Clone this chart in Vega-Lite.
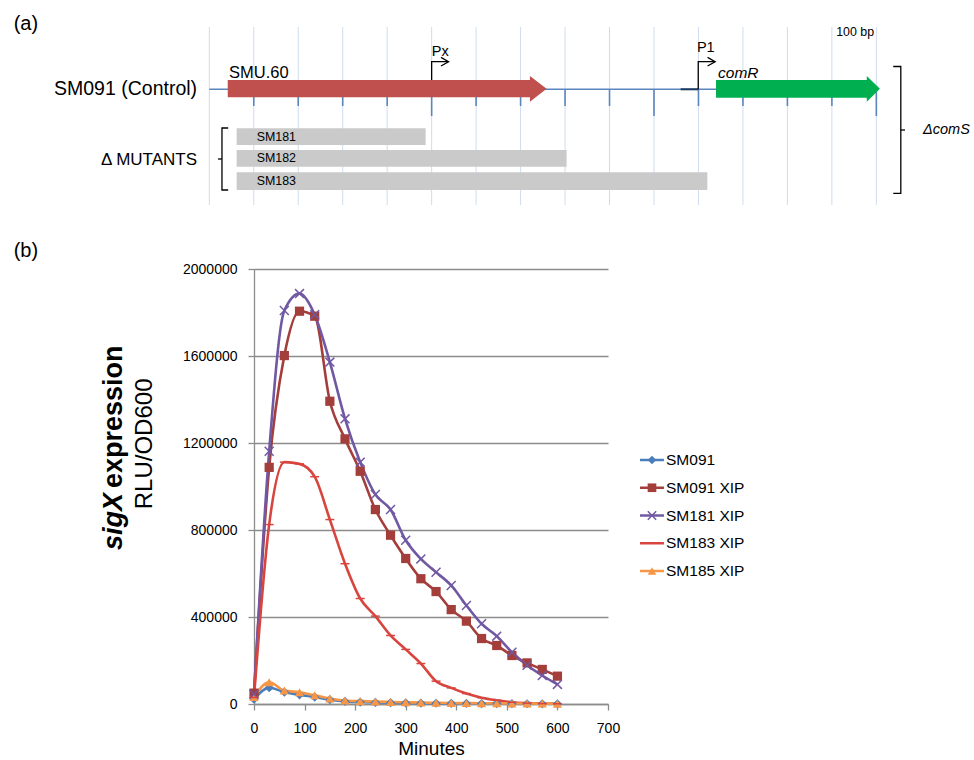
{
  "$schema": "https://vega.github.io/schema/vega-lite/v6.json",
  "padding": 0,
  "spacing": 0,
  "config": {
    "font": "Liberation Sans",
    "view": {"stroke": null},
    "concat": {"spacing": 0},
    "text": {"color": "#000000"}
  },
  "datasets": {
    "grid": [
      {"x": 0, "y": 27, "y2": 205}, {"x": 20, "y": 27, "y2": 205}, {"x": 40, "y": 27, "y2": 205}, {"x": 60, "y": 27, "y2": 205},
      {"x": 80, "y": 27, "y2": 205}, {"x": 100, "y": 27, "y2": 205}, {"x": 120, "y": 27, "y2": 205}, {"x": 140, "y": 27, "y2": 205},
      {"x": 160, "y": 27, "y2": 205}, {"x": 180, "y": 27, "y2": 205}, {"x": 200, "y": 27, "y2": 205}, {"x": 220, "y": 27, "y2": 205},
      {"x": 240, "y": 27, "y2": 205}, {"x": 260, "y": 27, "y2": 205}, {"x": 280, "y": 27, "y2": 205}, {"x": 300, "y": 27, "y2": 205}
    ],
    "baseline": [{"x": 0, "x2": 300, "y": 89.3}],
    "ticks": [
      {"x": 20, "y": 89.3, "y2": 106}, {"x": 40, "y": 89.3, "y2": 106}, {"x": 60, "y": 89.3, "y2": 106}, {"x": 80, "y": 89.3, "y2": 106},
      {"x": 100, "y": 89.3, "y2": 116}, {"x": 120, "y": 89.3, "y2": 106}, {"x": 140, "y": 89.3, "y2": 106}, {"x": 160, "y": 89.3, "y2": 106},
      {"x": 180, "y": 89.3, "y2": 106}, {"x": 200, "y": 89.3, "y2": 116}, {"x": 220, "y": 89.3, "y2": 106}, {"x": 240, "y": 89.3, "y2": 106},
      {"x": 260, "y": 89.3, "y2": 106}, {"x": 280, "y": 89.3, "y2": 106}, {"x": 300, "y": 89.3, "y2": 116}
    ],
    "segment": [{"x": 212, "x2": 219.9, "y": 89.3}],
    "genes": [
      {"gene": "SMU.60", "x": 8.3, "y": 80, "y2": 97.3},
      {"gene": "SMU.60", "x": 144.2, "y": 80, "y2": 97.3},
      {"gene": "SMU.60", "x": 144.21, "y": 76, "y2": 101.7},
      {"gene": "SMU.60", "x": 151.7, "y": 88.7, "y2": 88.7},
      {"gene": "comR", "x": 227.9, "y": 80, "y2": 97.7},
      {"gene": "comR", "x": 295.7, "y": 80, "y2": 97.7},
      {"gene": "comR", "x": 295.71, "y": 76, "y2": 101.7},
      {"gene": "comR", "x": 301.6, "y": 88.8, "y2": 88.8}
    ],
    "deletions": [
      {"strain": "SM181", "x": 12.3, "x2": 97.3, "y": 128.3, "y2": 145},
      {"strain": "SM182", "x": 12.3, "x2": 160.7, "y": 150, "y2": 166.7},
      {"strain": "SM183", "x": 12.3, "x2": 224, "y": 172.3, "y2": 190}
    ],
    "paths": [
      {"path": "Px stem", "ord": 0, "x": 100, "y": 80}, {"path": "Px stem", "ord": 1, "x": 100, "y": 61.7}, {"path": "Px stem", "ord": 2, "x": 107.5, "y": 61.7},
      {"path": "Px head", "ord": 0, "x": 104.2, "y": 57.4}, {"path": "Px head", "ord": 1, "x": 107.6, "y": 61.7}, {"path": "Px head", "ord": 2, "x": 104.2, "y": 66},
      {"path": "P1 stem", "ord": 0, "x": 219.9, "y": 89.3}, {"path": "P1 stem", "ord": 1, "x": 219.9, "y": 61.7}, {"path": "P1 stem", "ord": 2, "x": 227.4, "y": 61.7},
      {"path": "P1 head", "ord": 0, "x": 224.1, "y": 57.4}, {"path": "P1 head", "ord": 1, "x": 227.5, "y": 61.7}, {"path": "P1 head", "ord": 2, "x": 224.1, "y": 66},
      {"path": "mutant bracket", "ord": 0, "x": 8.5, "y": 128}, {"path": "mutant bracket", "ord": 1, "x": 5.7, "y": 128}, {"path": "mutant bracket", "ord": 2, "x": 5.7, "y": 190}, {"path": "mutant bracket", "ord": 3, "x": 8.5, "y": 190},
      {"path": "mutant notch", "ord": 0, "x": 5.7, "y": 159}, {"path": "mutant notch", "ord": 1, "x": 3.9, "y": 159},
      {"path": "comS bracket", "ord": 0, "x": 307.6, "y": 66.5}, {"path": "comS bracket", "ord": 1, "x": 311, "y": 66.5}, {"path": "comS bracket", "ord": 2, "x": 311, "y": 193.3}, {"path": "comS bracket", "ord": 3, "x": 307.6, "y": 193.3},
      {"path": "comS notch", "ord": 0, "x": 311, "y": 130}, {"path": "comS notch", "ord": 1, "x": 312.9, "y": 130}
    ],
    "labels": [
      {"kind": "panel", "text": "(a)", "x": -88, "y": 24},
      {"kind": "panel", "text": "(b)", "x": -88, "y": 251},
      {"kind": "strain", "text": "SM091 (Control)", "x": -5.5, "y": 89.3},
      {"kind": "group", "text": "Δ MUTANTS", "x": -5.5, "y": 159.5},
      {"kind": "gene", "text": "SMU.60", "x": 8.9, "y": 78},
      {"kind": "geneItalic", "text": "comR", "x": 228.8, "y": 78},
      {"kind": "promoter", "text": "Px", "x": 100.1, "y": 56},
      {"kind": "promoter", "text": "P1", "x": 219.3, "y": 52},
      {"kind": "scale", "text": "100 bp", "x": 299, "y": 36},
      {"kind": "mutant", "text": "SM181", "x": 21.3, "y": 136.7},
      {"kind": "mutant", "text": "SM182", "x": 21.3, "y": 158.3},
      {"kind": "mutant", "text": "SM183", "x": 21.3, "y": 181.2},
      {"kind": "deletion", "text": "ΔcomS", "x": 321, "y": 130}
    ],
    "ytitle": [
      {"part": "gene", "text": "sigX", "x": 0.626, "y": 0.515},
      {"part": "word", "text": "expression", "x": 0.626, "y": 0.5034},
      {"part": "unit", "text": "RLU/OD600", "x": 0.797, "y": 0.402}
    ],
    "legendItems": [
      {"series": "SM091"}, {"series": "SM091 XIP"}, {"series": "SM181 XIP"}, {"series": "SM183 XIP"}, {"series": "SM185 XIP"}
    ],
    "series": [
      {"minutes": 0, "series": "SM091", "rlu": 22000}, {"minutes": 30, "series": "SM091", "rlu": 75000}, {"minutes": 60, "series": "SM091", "rlu": 55000},
      {"minutes": 90, "series": "SM091", "rlu": 42000}, {"minutes": 120, "series": "SM091", "rlu": 32000}, {"minutes": 150, "series": "SM091", "rlu": 20000},
      {"minutes": 180, "series": "SM091", "rlu": 12000}, {"minutes": 210, "series": "SM091", "rlu": 9000}, {"minutes": 240, "series": "SM091", "rlu": 7000},
      {"minutes": 270, "series": "SM091", "rlu": 6000}, {"minutes": 300, "series": "SM091", "rlu": 5000}, {"minutes": 330, "series": "SM091", "rlu": 4000},
      {"minutes": 360, "series": "SM091", "rlu": 3500}, {"minutes": 390, "series": "SM091", "rlu": 3000}, {"minutes": 420, "series": "SM091", "rlu": 2500},
      {"minutes": 450, "series": "SM091", "rlu": 2000}, {"minutes": 480, "series": "SM091", "rlu": 1800}, {"minutes": 510, "series": "SM091", "rlu": 1500},
      {"minutes": 540, "series": "SM091", "rlu": 1200}, {"minutes": 570, "series": "SM091", "rlu": 1000}, {"minutes": 600, "series": "SM091", "rlu": 900},

      {"minutes": 0, "series": "SM091 XIP", "rlu": 50000}, {"minutes": 30, "series": "SM091 XIP", "rlu": 1088000}, {"minutes": 60, "series": "SM091 XIP", "rlu": 1602000},
      {"minutes": 90, "series": "SM091 XIP", "rlu": 1806000}, {"minutes": 120, "series": "SM091 XIP", "rlu": 1783000}, {"minutes": 150, "series": "SM091 XIP", "rlu": 1392000},
      {"minutes": 180, "series": "SM091 XIP", "rlu": 1219000}, {"minutes": 210, "series": "SM091 XIP", "rlu": 1070000}, {"minutes": 240, "series": "SM091 XIP", "rlu": 894000},
      {"minutes": 270, "series": "SM091 XIP", "rlu": 776000}, {"minutes": 300, "series": "SM091 XIP", "rlu": 669000}, {"minutes": 330, "series": "SM091 XIP", "rlu": 576000},
      {"minutes": 360, "series": "SM091 XIP", "rlu": 517000}, {"minutes": 390, "series": "SM091 XIP", "rlu": 434000}, {"minutes": 420, "series": "SM091 XIP", "rlu": 381000},
      {"minutes": 450, "series": "SM091 XIP", "rlu": 301000}, {"minutes": 480, "series": "SM091 XIP", "rlu": 269000}, {"minutes": 510, "series": "SM091 XIP", "rlu": 223000},
      {"minutes": 540, "series": "SM091 XIP", "rlu": 189000}, {"minutes": 570, "series": "SM091 XIP", "rlu": 159000}, {"minutes": 600, "series": "SM091 XIP", "rlu": 128000},

      {"minutes": 0, "series": "SM181 XIP", "rlu": 45000}, {"minutes": 30, "series": "SM181 XIP", "rlu": 1162000}, {"minutes": 60, "series": "SM181 XIP", "rlu": 1809000},
      {"minutes": 90, "series": "SM181 XIP", "rlu": 1887000}, {"minutes": 120, "series": "SM181 XIP", "rlu": 1790000}, {"minutes": 150, "series": "SM181 XIP", "rlu": 1572000},
      {"minutes": 180, "series": "SM181 XIP", "rlu": 1311000}, {"minutes": 210, "series": "SM181 XIP", "rlu": 1112000}, {"minutes": 240, "series": "SM181 XIP", "rlu": 963000},
      {"minutes": 270, "series": "SM181 XIP", "rlu": 894000}, {"minutes": 300, "series": "SM181 XIP", "rlu": 753000}, {"minutes": 330, "series": "SM181 XIP", "rlu": 667000},
      {"minutes": 360, "series": "SM181 XIP", "rlu": 606000}, {"minutes": 390, "series": "SM181 XIP", "rlu": 545000}, {"minutes": 420, "series": "SM181 XIP", "rlu": 453000},
      {"minutes": 450, "series": "SM181 XIP", "rlu": 369000}, {"minutes": 480, "series": "SM181 XIP", "rlu": 312000}, {"minutes": 510, "series": "SM181 XIP", "rlu": 238000},
      {"minutes": 540, "series": "SM181 XIP", "rlu": 178000}, {"minutes": 570, "series": "SM181 XIP", "rlu": 131000}, {"minutes": 600, "series": "SM181 XIP", "rlu": 90000},

      {"minutes": 0, "series": "SM183 XIP", "rlu": 30000}, {"minutes": 30, "series": "SM183 XIP", "rlu": 825000}, {"minutes": 60, "series": "SM183 XIP", "rlu": 1112000},
      {"minutes": 90, "series": "SM183 XIP", "rlu": 1104000}, {"minutes": 120, "series": "SM183 XIP", "rlu": 1045000}, {"minutes": 150, "series": "SM183 XIP", "rlu": 848000},
      {"minutes": 180, "series": "SM183 XIP", "rlu": 645000}, {"minutes": 210, "series": "SM183 XIP", "rlu": 485000}, {"minutes": 240, "series": "SM183 XIP", "rlu": 404000},
      {"minutes": 270, "series": "SM183 XIP", "rlu": 315000}, {"minutes": 300, "series": "SM183 XIP", "rlu": 251000}, {"minutes": 330, "series": "SM183 XIP", "rlu": 186000},
      {"minutes": 360, "series": "SM183 XIP", "rlu": 105000}, {"minutes": 390, "series": "SM183 XIP", "rlu": 74000}, {"minutes": 420, "series": "SM183 XIP", "rlu": 48000},
      {"minutes": 450, "series": "SM183 XIP", "rlu": 29000}, {"minutes": 480, "series": "SM183 XIP", "rlu": 17000}, {"minutes": 510, "series": "SM183 XIP", "rlu": 8000},
      {"minutes": 540, "series": "SM183 XIP", "rlu": 4000}, {"minutes": 570, "series": "SM183 XIP", "rlu": 2000}, {"minutes": 600, "series": "SM183 XIP", "rlu": 1000},

      {"minutes": 0, "series": "SM185 XIP", "rlu": 32000}, {"minutes": 30, "series": "SM185 XIP", "rlu": 100000}, {"minutes": 60, "series": "SM185 XIP", "rlu": 62000},
      {"minutes": 90, "series": "SM185 XIP", "rlu": 54000}, {"minutes": 120, "series": "SM185 XIP", "rlu": 40000}, {"minutes": 150, "series": "SM185 XIP", "rlu": 25000},
      {"minutes": 180, "series": "SM185 XIP", "rlu": 16000}, {"minutes": 210, "series": "SM185 XIP", "rlu": 13000}, {"minutes": 240, "series": "SM185 XIP", "rlu": 11000},
      {"minutes": 270, "series": "SM185 XIP", "rlu": 9500}, {"minutes": 300, "series": "SM185 XIP", "rlu": 8000}, {"minutes": 330, "series": "SM185 XIP", "rlu": 6500},
      {"minutes": 360, "series": "SM185 XIP", "rlu": 5500}, {"minutes": 390, "series": "SM185 XIP", "rlu": 4500}, {"minutes": 420, "series": "SM185 XIP", "rlu": 4000},
      {"minutes": 450, "series": "SM185 XIP", "rlu": 3500}, {"minutes": 480, "series": "SM185 XIP", "rlu": 3000}, {"minutes": 510, "series": "SM185 XIP", "rlu": 2500},
      {"minutes": 540, "series": "SM185 XIP", "rlu": 2000}, {"minutes": 570, "series": "SM185 XIP", "rlu": 1800}, {"minutes": 600, "series": "SM185 XIP", "rlu": 1500}
    ]
  },
  "vconcat": [
    {
      "width": 974,
      "height": 262,
      "encoding": {
        "x": {"field": "x", "type": "quantitative", "scale": {"domain": [-94.13, 343.92], "nice": false, "zero": false}, "axis": null},
        "y": {"field": "y", "type": "quantitative", "scale": {"domain": [0, 262], "reverse": true, "nice": false, "zero": false}, "axis": null}
      },
      "layer": [
        {"data": {"name": "grid"}, "mark": {"type": "rule", "color": "#CFDDEF", "strokeWidth": 1}, "encoding": {"y2": {"field": "y2"}}},
        {"data": {"name": "ticks"}, "mark": {"type": "rule", "color": "#5A86C0", "strokeWidth": 1.6}, "encoding": {"y2": {"field": "y2"}}},
        {"data": {"name": "baseline"}, "mark": {"type": "rule", "color": "#5A86C0", "strokeWidth": 1.5}, "encoding": {"x2": {"field": "x2"}}},
        {"data": {"name": "segment"}, "mark": {"type": "rule", "color": "#1F3A60", "strokeWidth": 2}, "encoding": {"x2": {"field": "x2"}}},
        {
          "data": {"name": "genes"},
          "transform": [{"filter": "datum.gene === 'SMU.60'"}],
          "mark": {"type": "area", "color": "#C0504D", "opacity": 1},
          "encoding": {
            "y": {"field": "y", "type": "quantitative", "stack": null, "scale": {"domain": [0, 262], "reverse": true, "nice": false, "zero": false}, "axis": null},
            "y2": {"field": "y2"}
          }
        },
        {
          "data": {"name": "genes"},
          "transform": [{"filter": "datum.gene === 'comR'"}],
          "mark": {"type": "area", "color": "#00B050", "opacity": 1},
          "encoding": {
            "y": {"field": "y", "type": "quantitative", "stack": null, "scale": {"domain": [0, 262], "reverse": true, "nice": false, "zero": false}, "axis": null},
            "y2": {"field": "y2"}
          }
        },
        {"data": {"name": "deletions"}, "mark": {"type": "rect", "color": "#CACACA"}, "encoding": {"x2": {"field": "x2"}, "y2": {"field": "y2"}}},
        {"data": {"name": "paths"}, "mark": {"type": "line", "color": "#000000", "strokeWidth": 1.3}, "encoding": {"detail": {"field": "path"}, "order": {"field": "ord"}}},
        {"data": {"name": "labels"}, "transform": [{"filter": "datum.kind === 'panel'"}], "mark": {"type": "text", "align": "left", "baseline": "middle", "fontSize": 20}, "encoding": {"text": {"field": "text"}}},
        {"data": {"name": "labels"}, "transform": [{"filter": "datum.kind === 'strain'"}], "mark": {"type": "text", "align": "right", "baseline": "middle", "fontSize": 19.5}, "encoding": {"text": {"field": "text"}}},
        {"data": {"name": "labels"}, "transform": [{"filter": "datum.kind === 'group'"}], "mark": {"type": "text", "align": "right", "baseline": "middle", "fontSize": 17}, "encoding": {"text": {"field": "text"}}},
        {"data": {"name": "labels"}, "transform": [{"filter": "datum.kind === 'gene'"}], "mark": {"type": "text", "align": "left", "baseline": "alphabetic", "fontSize": 16.5}, "encoding": {"text": {"field": "text"}}},
        {"data": {"name": "labels"}, "transform": [{"filter": "datum.kind === 'geneItalic'"}], "mark": {"type": "text", "align": "left", "baseline": "alphabetic", "fontSize": 15.5, "fontStyle": "italic"}, "encoding": {"text": {"field": "text"}}},
        {"data": {"name": "labels"}, "transform": [{"filter": "datum.kind === 'promoter'"}], "mark": {"type": "text", "align": "left", "baseline": "alphabetic", "fontSize": 14.5}, "encoding": {"text": {"field": "text"}}},
        {"data": {"name": "labels"}, "transform": [{"filter": "datum.kind === 'scale'"}], "mark": {"type": "text", "align": "right", "baseline": "alphabetic", "fontSize": 12.4}, "encoding": {"text": {"field": "text"}}},
        {"data": {"name": "labels"}, "transform": [{"filter": "datum.kind === 'mutant'"}], "mark": {"type": "text", "align": "left", "baseline": "middle", "fontSize": 12.4}, "encoding": {"text": {"field": "text"}}},
        {"data": {"name": "labels"}, "transform": [{"filter": "datum.kind === 'deletion'"}], "mark": {"type": "text", "align": "left", "baseline": "middle", "fontSize": 14.5, "fontStyle": "italic"}, "encoding": {"text": {"field": "text"}}}
      ]
    },
    {
      "spacing": 0,
      "hconcat": [
        {
          "width": 182,
          "height": 435,
          "data": {"name": "ytitle"},
          "encoding": {
            "x": {"field": "x", "type": "quantitative", "scale": {"domain": [0, 1], "nice": false, "zero": false}, "axis": null},
            "y": {"field": "y", "type": "quantitative", "scale": {"domain": [0, 1], "reverse": true, "nice": false, "zero": false}, "axis": null},
            "text": {"field": "text"}
          },
          "layer": [
            {"transform": [{"filter": "datum.part === 'gene'"}], "mark": {"type": "text", "angle": 270, "align": "right", "baseline": "middle", "fontSize": 27, "fontWeight": "bold", "fontStyle": "italic"}},
            {"transform": [{"filter": "datum.part === 'word'"}], "mark": {"type": "text", "angle": 270, "align": "left", "baseline": "middle", "fontSize": 27, "fontWeight": "bold"}},
            {"transform": [{"filter": "datum.part === 'unit'"}], "mark": {"type": "text", "angle": 270, "align": "center", "baseline": "middle", "fontSize": 24}}
          ]
        },
        {
          "width": 354,
          "height": 435,
          "data": {"name": "series"},
          "encoding": {
            "x": {
              "field": "minutes", "type": "quantitative", "title": "Minutes",
              "scale": {"domain": [0, 700], "nice": false, "zero": false},
              "axis": {"values": [0, 100, 200, 300, 400, 500, 600, 700], "grid": false, "labelFlush": false, "domainColor": "#8C8C8C", "domainWidth": 1.3, "tickColor": "#8C8C8C", "tickSize": 6, "tickWidth": 1.3, "labelFontSize": 14, "labelColor": "#000000", "labelPadding": 11, "titleFontSize": 19, "titleFontWeight": "normal", "titleColor": "#000000", "titlePadding": 4}
            },
            "y": {
              "field": "rlu", "type": "quantitative", "title": null,
              "scale": {"domain": [0, 2000000], "nice": false, "zero": true},
              "axis": {"values": [0, 400000, 800000, 1200000, 1600000, 2000000], "format": "d", "grid": true, "gridColor": "#8C8C8C", "gridWidth": 1.3, "domainColor": "#8C8C8C", "domainWidth": 1.3, "tickColor": "#8C8C8C", "tickSize": 6, "tickWidth": 1.3, "labelFontSize": 14, "labelColor": "#000000", "labelPadding": 11}
            },
            "color": {
              "field": "series", "type": "nominal",
              "scale": {"domain": ["SM091", "SM091 XIP", "SM181 XIP", "SM183 XIP", "SM185 XIP"], "range": ["#4A7EBB", "#A33E3B", "#7058A3", "#D8453E", "#F79646"]},
              "legend": null
            }
          },
          "layer": [
            {"mark": {"type": "line", "strokeWidth": 2.6, "interpolate": "monotone"}},
            {
              "transform": [{"filter": {"field": "series", "oneOf": ["SM091", "SM091 XIP", "SM185 XIP"]}}],
              "mark": {"type": "point", "filled": true, "opacity": 1, "size": 85},
              "encoding": {"shape": {"field": "series", "type": "nominal", "scale": {"domain": ["SM091", "SM091 XIP", "SM181 XIP", "SM183 XIP", "SM185 XIP"], "range": ["diamond", "square", "M-1,-1L1,1M-1,1L1,-1", "M-1,0H1", "triangle-up"]}, "legend": null}}
            },
            {
              "transform": [{"filter": {"field": "series", "oneOf": ["SM181 XIP", "SM183 XIP"]}}],
              "mark": {"type": "point", "filled": false, "opacity": 1, "size": 80, "strokeWidth": 1.5},
              "encoding": {"shape": {"field": "series", "type": "nominal", "scale": {"domain": ["SM091", "SM091 XIP", "SM181 XIP", "SM183 XIP", "SM185 XIP"], "range": ["diamond", "square", "M-1,-1L1,1M-1,1L1,-1", "M-1,0H1", "triangle-up"]}, "legend": null}}
            }
          ]
        },
        {
          "width": 130,
          "height": 435,
          "data": {"name": "legendItems"},
          "encoding": {
            "y": {"field": "series", "type": "nominal", "scale": {"type": "point", "domain": ["SM091", "SM091 XIP", "SM181 XIP", "SM183 XIP", "SM185 XIP"], "range": [191, 302], "padding": 0}, "axis": null},
            "color": {"field": "series", "type": "nominal", "scale": {"domain": ["SM091", "SM091 XIP", "SM181 XIP", "SM183 XIP", "SM185 XIP"], "range": ["#4A7EBB", "#A33E3B", "#7058A3", "#D8453E", "#F79646"]}, "legend": null}
          },
          "layer": [
            {
              "mark": {"type": "rule", "strokeWidth": 2.5},
              "encoding": {
                "x": {"datum": 0.154, "type": "quantitative", "scale": {"domain": [0, 1], "nice": false, "zero": false}, "axis": null},
                "x2": {"datum": 0.338}
              }
            },
            {
              "transform": [{"filter": {"field": "series", "oneOf": ["SM091", "SM091 XIP", "SM185 XIP"]}}],
              "mark": {"type": "point", "filled": true, "opacity": 1, "size": 75},
              "encoding": {
                "x": {"datum": 0.246, "type": "quantitative", "scale": {"domain": [0, 1], "nice": false, "zero": false}, "axis": null},
                "shape": {"field": "series", "type": "nominal", "scale": {"domain": ["SM091", "SM091 XIP", "SM181 XIP", "SM183 XIP", "SM185 XIP"], "range": ["diamond", "square", "M-1,-1L1,1M-1,1L1,-1", "M-1,0H1", "triangle-up"]}, "legend": null}
              }
            },
            {
              "transform": [{"filter": "datum.series === 'SM181 XIP'"}],
              "mark": {"type": "point", "filled": false, "opacity": 1, "size": 70, "strokeWidth": 1.5},
              "encoding": {
                "x": {"datum": 0.246, "type": "quantitative", "scale": {"domain": [0, 1], "nice": false, "zero": false}, "axis": null},
                "shape": {"field": "series", "type": "nominal", "scale": {"domain": ["SM091", "SM091 XIP", "SM181 XIP", "SM183 XIP", "SM185 XIP"], "range": ["diamond", "square", "M-1,-1L1,1M-1,1L1,-1", "M-1,0H1", "triangle-up"]}, "legend": null}
              }
            },
            {
              "mark": {"type": "text", "align": "left", "baseline": "middle", "fontSize": 15.5},
              "encoding": {
                "x": {"datum": 0.354, "type": "quantitative", "scale": {"domain": [0, 1], "nice": false, "zero": false}, "axis": null},
                "text": {"field": "series"},
                "color": {"value": "#000000"}
              }
            }
          ]
        }
      ]
    }
  ]
}
